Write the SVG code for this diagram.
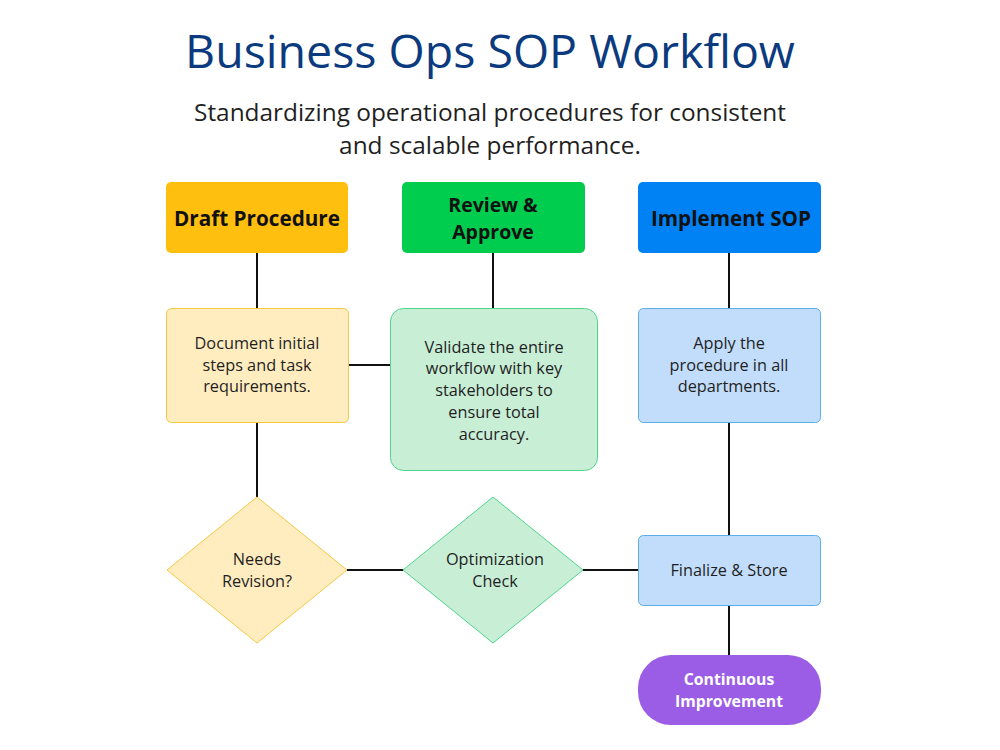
<svg xmlns="http://www.w3.org/2000/svg" width="1000" height="750" viewBox="0 0 1000 750">
<style>
text{font-family:"Open Sans","Noto Sans","Liberation Sans",sans-serif;text-anchor:middle;fill:#1f1f1f}
.title{font-size:46.5px;fill:#0b3a7e;font-weight:500}
.sub{font-size:24.4px}
.head{font-size:20.7px;font-weight:700;fill:#111}
.head2{font-size:19.5px;font-weight:700;fill:#111}
.body{font-size:16.3px}
.wh{font-size:15.8px;font-weight:700;fill:#fff}
.conn line{stroke:#111;stroke-width:2}
</style>
<rect width="1000" height="750" fill="#fff"/>
<text class="title" x="490" y="68">Business Ops SOP Workflow</text>
<text class="sub" x="490" y="121">Standardizing operational procedures for consistent</text>
<text class="sub" x="490" y="154">and scalable performance.</text>
<g class="conn" id="connectors">
<line x1="257" y1="253" x2="257" y2="308"/>
<line x1="493" y1="253" x2="493" y2="308"/>
<line x1="729" y1="253" x2="729" y2="308"/>
<line x1="348" y1="365" x2="390" y2="365"/>
<line x1="257" y1="422" x2="257" y2="497"/>
<line x1="729" y1="422" x2="729" y2="535"/>
<line x1="347" y1="570" x2="403" y2="570"/>
<line x1="583" y1="570" x2="638" y2="570"/>
<line x1="729" y1="605" x2="729" y2="655"/>
</g>
<g id="draft">
<rect x="166" y="182" width="182" height="71" rx="5" fill="#ffbf0f"/>
<text class="head" x="257" y="226">Draft Procedure</text>
</g>
<g id="review">
<rect x="402" y="182" width="183" height="71" rx="5" fill="#00cc4e"/>
<text class="head2" x="493" y="212">Review &amp;</text>
<text class="head2" x="493" y="239">Approve</text>
</g>
<g id="implement">
<rect x="638" y="182" width="183" height="71" rx="5" fill="#0082f5"/>
<text class="head" x="731" y="226">Implement SOP</text>
</g>
<g id="document">
<rect x="166.5" y="308.5" width="182" height="114" rx="5" fill="#ffedc0" stroke="#f5c842"/>
<text class="body" x="257" y="349">Document initial</text>
<text class="body" x="257" y="371">steps and task</text>
<text class="body" x="257" y="392">requirements.</text>
</g>
<g id="validate">
<rect x="390.5" y="308.5" width="207" height="162" rx="13" fill="#c8eed6" stroke="#4dd68a"/>
<text class="body" x="494" y="353">Validate the entire</text>
<text class="body" x="494" y="374">workflow with key</text>
<text class="body" x="494" y="396">stakeholders to</text>
<text class="body" x="494" y="418">ensure total</text>
<text class="body" x="494" y="440">accuracy.</text>
</g>
<g id="apply">
<rect x="638.5" y="308.5" width="182" height="114" rx="5" fill="#c2ddfb" stroke="#5baeea"/>
<text class="body" x="729" y="349">Apply the</text>
<text class="body" x="729" y="371">procedure in all</text>
<text class="body" x="729" y="392">departments.</text>
</g>
<g id="needs">
<polygon points="257,497 347,570 257,643 167,570" fill="#ffedc0" stroke="#f5c842"/>
<text class="body" x="257" y="565">Needs</text>
<text class="body" x="257" y="587">Revision?</text>
</g>
<g id="optimization">
<polygon points="493,497 583,570 493,643 403,570" fill="#c8eed6" stroke="#4dd68a"/>
<text class="body" x="495" y="565">Optimization</text>
<text class="body" x="495" y="587">Check</text>
</g>
<g id="finalize">
<rect x="638.5" y="535.5" width="182" height="70" rx="5" fill="#c2ddfb" stroke="#5baeea"/>
<text class="body" x="729" y="576">Finalize &amp; Store</text>
</g>
<g id="continuous">
<rect x="638" y="655" width="183" height="70" rx="33" fill="#9b5de5"/>
<text class="wh" x="729" y="685">Continuous</text>
<text class="wh" x="729" y="707">Improvement</text>
</g>
</svg>
